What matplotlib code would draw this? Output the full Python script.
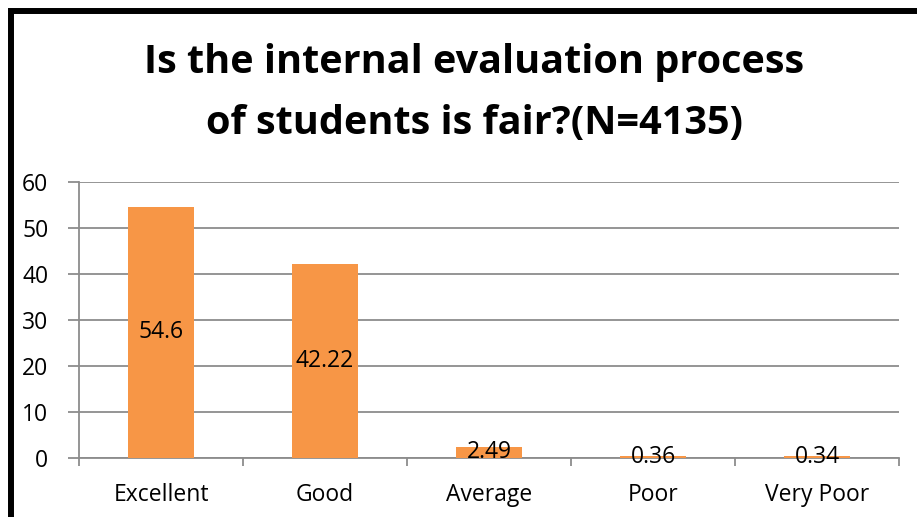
import matplotlib
matplotlib.use("Agg")
import matplotlib.pyplot as plt
from matplotlib.patches import Rectangle

categories = ["Excellent", "Good", "Average", "Poor", "Very Poor"]
values = [54.6, 42.22, 2.49, 0.36, 0.34]
labels = ["54.6", "42.22", "2.49", "0.36", "0.34"]
yticks = [0, 10, 20, 30, 40, 50, 60]

plt.rcParams['font.family'] = ['Open Sans', 'DejaVu Sans']

W, H = 917, 517
fig = plt.figure(figsize=(W/100, H/100), dpi=100)
ax = fig.add_axes([79/W, 1 - 458/H, (899-79)/W, (458-182)/H])

x = list(range(len(categories)))
ax.bar(x, values, width=0.4, color="#F79646", zorder=3)
for xi, v, lab in zip(x, values, labels):
    ax.text(xi, v/2, lab, ha="center", va="center", fontsize=16.5, color="black", zorder=4)

ax.set_xlim(-0.5, len(categories) - 0.5)
ax.set_ylim(0, 60)
ax.set_yticks(yticks)
ax.set_yticklabels([str(t) for t in yticks], fontsize=16.5)
ax.yaxis.grid(True, color="#8c8c8c", linewidth=1.3, zorder=0)
ax.set_xticks([i - 0.5 for i in range(len(categories) + 1)], minor=False)
ax.set_xticklabels([""] * (len(categories) + 1))
ax.set_xticks(x, minor=True)
ax.set_xticklabels(categories, minor=True, fontsize=16.5)
ax.tick_params(axis="x", which="minor", length=0, pad=18)
ax.tick_params(axis="x", which="major", length=6, width=1.3, color="#8c8c8c", direction="out")
ax.tick_params(axis="y", length=8, width=1.3, color="#8c8c8c", pad=14)
for s in ["top", "right"]:
    ax.spines[s].set_visible(False)
for s in ["left", "bottom"]:
    ax.spines[s].set_color("#8c8c8c")
    ax.spines[s].set_linewidth(1.3)

fig.text(474/W, 1 - 62/H, "Is the internal evaluation process", ha="center", va="center",
         fontsize=28.5, fontweight="bold")
fig.text(474/W, 1 - 124/H, "of students is fair?(N=4135)", ha="center", va="center",
         fontsize=28.5, fontweight="bold")

fig.patches.append(Rectangle((10.5/W, -0.1), 1.2, 1 - 10.5/H + 0.1, transform=fig.transFigure,
                             fill=False, edgecolor="black", linewidth=4.3))

fig.savefig("out.png", dpi=100)
